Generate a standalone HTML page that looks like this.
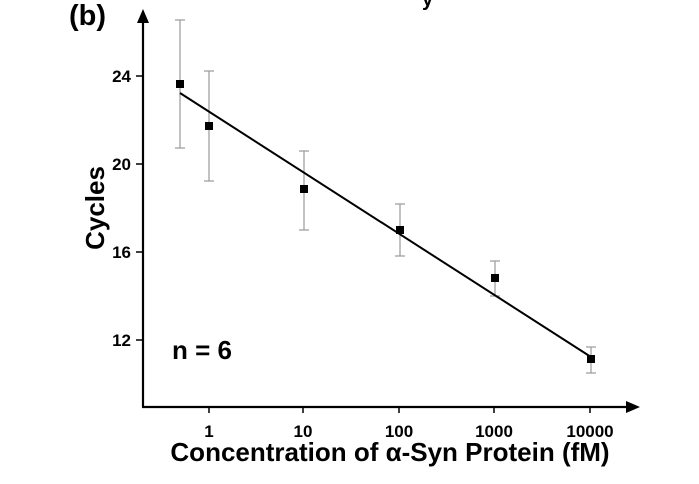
<!DOCTYPE html><html><head><style>body{margin:0;background:#fff}svg{display:block}text{font-family:"Liberation Sans",Arial,sans-serif;font-weight:bold;fill:#000}</style></head><body>
<svg width="699" height="484" viewBox="0 0 699 484">
<text x="69" y="25" font-size="29">(b)</text>
<text x="422" y="6" font-size="20">y</text>
<g stroke="#000" stroke-width="2.2" fill="none">
<line x1="143" y1="20" x2="143" y2="407"/><line x1="142" y1="407" x2="628" y2="407"/>
<g stroke-width="1.5"><line x1="136" y1="76" x2="143" y2="76"/><line x1="136" y1="164" x2="143" y2="164"/><line x1="136" y1="252" x2="143" y2="252"/><line x1="136" y1="340" x2="143" y2="340"/>
<line x1="209" y1="407" x2="209" y2="413"/><line x1="303" y1="407" x2="303" y2="413"/><line x1="399" y1="407" x2="399" y2="413"/><line x1="494" y1="407" x2="494" y2="413"/><line x1="590" y1="407" x2="590" y2="413"/></g>
</g>
<polygon points="143,9 137,23 149,23" fill="#000"/><polygon points="640,407 626,401 626,413" fill="#000"/>
<g font-size="17" text-anchor="end"><text x="131" y="82">24</text><text x="131" y="170">20</text><text x="131" y="258">16</text><text x="131" y="346">12</text></g>
<g font-size="17" text-anchor="middle"><text x="209" y="437">1</text><text x="303" y="437">10</text><text x="399" y="437">100</text><text x="494" y="437">1000</text><text x="590" y="437">10000</text></g>
<text x="390" y="461" font-size="26" text-anchor="middle">Concentration of α-Syn Protein (fM)</text>
<text transform="translate(104,208) rotate(-90)" font-size="26" text-anchor="middle">Cycles</text>
<text x="172" y="359" font-size="26">n = 6</text>
<g stroke="#999" stroke-width="1.2">
<line x1="180" y1="20" x2="180" y2="148"/><line x1="175" y1="20" x2="185" y2="20"/><line x1="175" y1="148" x2="185" y2="148"/>
<line x1="209" y1="71" x2="209" y2="181"/><line x1="204" y1="71" x2="214" y2="71"/><line x1="204" y1="181" x2="214" y2="181"/>
<line x1="304" y1="151" x2="304" y2="230"/><line x1="299" y1="151" x2="309" y2="151"/><line x1="299" y1="230" x2="309" y2="230"/>
<line x1="400" y1="204" x2="400" y2="256"/><line x1="395" y1="204" x2="405" y2="204"/><line x1="395" y1="256" x2="405" y2="256"/>
<line x1="495" y1="261" x2="495" y2="296"/><line x1="490" y1="261" x2="500" y2="261"/><line x1="490" y1="296" x2="500" y2="296"/>
<line x1="591" y1="347" x2="591" y2="373"/><line x1="586" y1="347" x2="596" y2="347"/><line x1="586" y1="373" x2="596" y2="373"/>
</g>
<line x1="180" y1="93" x2="591" y2="357" stroke="#000" stroke-width="2"/>
<g fill="#000"><rect x="176" y="80" width="8" height="8"/><rect x="205" y="122" width="8" height="8"/><rect x="300" y="185" width="8" height="8"/><rect x="396" y="226" width="8" height="8"/><rect x="491" y="274" width="8" height="8"/><rect x="587" y="355" width="8" height="8"/></g>
</svg></body></html>
